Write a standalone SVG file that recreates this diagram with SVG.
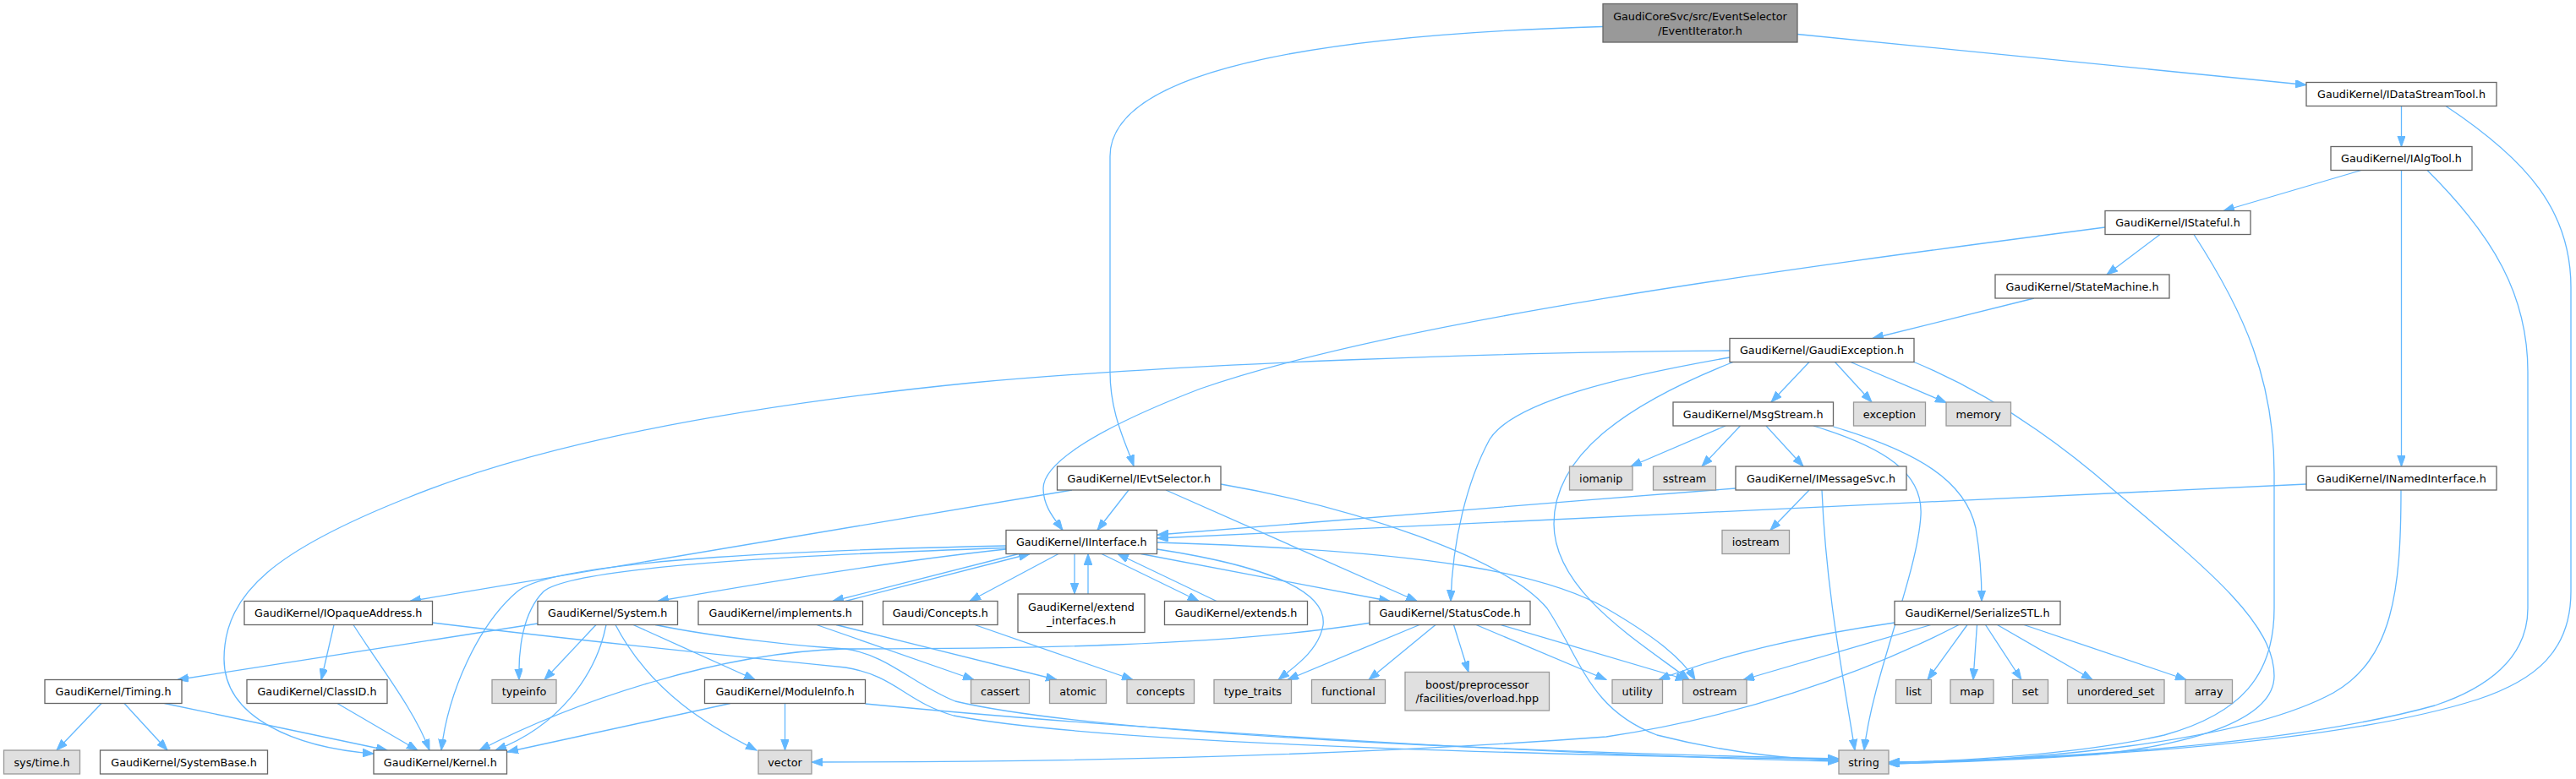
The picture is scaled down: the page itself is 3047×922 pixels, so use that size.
<svg xmlns="http://www.w3.org/2000/svg" width="3047" height="922" viewBox="0 0 3047 922">
<style>
.n{fill:#ffffff;stroke:#666666;stroke-width:1.3}
.x{fill:#e0e0e0;stroke:#999999;stroke-width:1.3}
.r{fill:#999999;stroke:#666666;stroke-width:1.3}
text{font-family:"DejaVu Sans","Liberation Sans",sans-serif;font-size:12.75px;fill:#000000;text-anchor:middle}
.e{fill:none;stroke:#63b8ff;stroke-width:1.3;marker-end:url(#a)}
</style>
<defs>
<marker id="a" markerUnits="userSpaceOnUse" markerWidth="14" markerHeight="10" refX="13" refY="4.75" orient="auto">
<path d="M0,0 L13,4.75 L0,9.5 z" fill="#63b8ff" stroke="#63b8ff" stroke-width="1"/>
</marker>
</defs>
<rect width="3047" height="922" fill="#ffffff"/>
<g id="edges">
<path class="e" d="M1896,31.5 C1600,40 1313,75 1313,185 L1313,440 C1313,490 1332,525 1341,551.5"/>
<path class="e" d="M2126,40.5 L2728,100.5"/>
<path class="e" d="M2840.5,125.5 L2840.5,173.5"/>
<path class="e" d="M2893,125.5 C2990,190 3041,250 3041,340 L3041,700 C3041,770 3000,805 2930,828 C2750,885 2400,900 2234,902"/>
<path class="e" d="M2793,201.5 L2630,249.5"/>
<path class="e" d="M2840.5,201.5 L2840.5,552"/>
<path class="e" d="M2871,201.5 C2950,280 2990,350 2990,440 L2990,720 C2990,780 2940,815 2880,835 C2700,885 2400,899 2234,902.5"/>
<path class="e" d="M2490,269 C2100,320 1650,380 1420,460 C1290,510 1234,550 1234,578 C1234,600 1248,615 1257,627.5"/>
<path class="e" d="M2555,277.5 L2492,325"/>
<path class="e" d="M2595,277.5 C2655,370 2690,450 2690,560 L2690,720 C2690,800 2650,845 2560,870 C2450,895 2300,901 2234,903"/>
<path class="e" d="M2406,353 L2215,400.5"/>
<path class="e" d="M2046,415 C1800,416 1400,430 1150,453 C900,478 650,520 480,590 C330,650 265,700 265,780 C265,850 350,885 442,892"/>
<path class="e" d="M2046,423 C1920,445 1790,475 1762,520 C1735,570 1718,640 1716,711.5"/>
<path class="e" d="M2050,428.5 C1920,480 1838,540 1838,620 C1838,700 1940,760 1998,804.5"/>
<path class="e" d="M2140,428.5 L2095,476"/>
<path class="e" d="M2170.5,428.5 L2214,476"/>
<path class="e" d="M2189,428.5 L2302,476.5"/>
<path class="e" d="M2264,428.5 C2340,460 2420,510 2500,580 C2620,680 2690,740 2690,800 C2690,850 2600,880 2480,893 C2380,900 2280,903 2234,904"/>
<path class="e" d="M2041,504 L1929,552"/>
<path class="e" d="M2058.5,504 L2013,552"/>
<path class="e" d="M2089,504 L2133,552"/>
<path class="e" d="M2145,504 C2230,530 2275,560 2272,610 C2268,680 2215,800 2205,888"/>
<path class="e" d="M2168.5,505 C2270,535 2325,570 2337,625 C2343,660 2344,690 2344,711.5"/>
<path class="e" d="M2053,578 C1800,598 1500,622 1369,633"/>
<path class="e" d="M2728,573 C2200,600 1700,625 1369,637"/>
<path class="e" d="M2140,580 L2094,627.5"/>
<path class="e" d="M2155,580 C2160,700 2180,800 2194,888"/>
<path class="e" d="M2840,580 C2840,700 2830,780 2760,820 C2650,880 2400,900 2234,904"/>
<path class="e" d="M1335,580 L1298,627.5"/>
<path class="e" d="M1268,580 L485,711.5"/>
<path class="e" d="M1379,580 L1676,711.5"/>
<path class="e" d="M1444,573 C1600,600 1780,660 1830,720 C1870,780 1880,840 1960,870 C2050,893 2130,899 2175,900"/>
<path class="e" d="M1252,655.5 L1147,711.5"/>
<path class="e" d="M1271,655.5 L1271,703"/>
<path class="e" d="M1287,703 L1287,655.5"/>
<path class="e" d="M1303,655.5 L1418,711.5"/>
<path class="e" d="M1439,711.5 L1322,655.5"/>
<path class="e" d="M1349.5,655.5 L1644,711.5"/>
<path class="e" d="M1368.5,650 C1500,670 1570,700 1565,740 C1560,770 1530,790 1512,804.5"/>
<path class="e" d="M1368.5,642 C1700,652 1830,680 1900,720 C1960,755 1990,780 2005,804.5"/>
<path class="e" d="M1190,650 C1050,665 900,690 778,711.5"/>
<path class="e" d="M1205,655.5 L985,711.5"/>
<path class="e" d="M1000,711.5 L1218,655.5"/>
<path class="e" d="M1190,646 C1000,650 660,660 612,700 C565,740 530,820 522,888"/>
<path class="e" d="M1190,648.5 C1000,655 680,668 643,700 C618,725 613,770 614,804.5"/>
<path class="e" d="M395,739.5 L380,804.5"/>
<path class="e" d="M418,739.5 C450,790 490,840 508,888"/>
<path class="e" d="M511.5,737 C700,760 900,780 1000,790 C1060,800 1070,830 1128,847 C1300,880 1800,893 2175,899"/>
<path class="e" d="M636,738 L210,804.5"/>
<path class="e" d="M705,739.5 L644,804.5"/>
<path class="e" d="M717,739.5 C705,800 660,860 586,888"/>
<path class="e" d="M749,739.5 L893,804.5"/>
<path class="e" d="M728,739.5 C770,820 840,860 895,888"/>
<path class="e" d="M775,739.5 C850,755 950,765 1000,768 C1050,775 1080,810 1130,830 C1300,870 1800,890 2175,898"/>
<path class="e" d="M120,832.5 L67,888"/>
<path class="e" d="M147,832.5 L198,888"/>
<path class="e" d="M194.5,832.5 L458,888"/>
<path class="e" d="M399,832.5 L494,888"/>
<path class="e" d="M864,832.5 L600,890"/>
<path class="e" d="M928.5,832.5 L928.5,888"/>
<path class="e" d="M1023.5,833 C1300,860 1800,893 2175,901"/>
<path class="e" d="M1622,737 C1450,765 1200,768 1000,768 C850,772 680,830 567,888"/>
<path class="e" d="M966,739.5 L1152,804.5"/>
<path class="e" d="M989,739.5 L1250,804.5"/>
<path class="e" d="M1153,739.5 L1340,804.5"/>
<path class="e" d="M1679,739.5 L1523,804.5"/>
<path class="e" d="M1698,739.5 L1619,804.5"/>
<path class="e" d="M1719.5,739.5 L1737,795.5"/>
<path class="e" d="M1746,739.5 L1900,804.5"/>
<path class="e" d="M1775,739.5 L1995,804.5"/>
<path class="e" d="M2241,737 C2150,750 2050,770 1962,804.5"/>
<path class="e" d="M2284,739.5 L2062,804.5"/>
<path class="e" d="M2317,739.5 C2200,800 2050,850 1900,872 C1500,902 1100,902 960,902"/>
<path class="e" d="M2327,739.5 L2280,804.5"/>
<path class="e" d="M2338.5,739.5 L2334,804.5"/>
<path class="e" d="M2348.5,739.5 L2391,804.5"/>
<path class="e" d="M2362.5,739.5 L2475,804.5"/>
<path class="e" d="M2394,739.5 L2586,804.5"/>
</g>
<g id="n_EventIterator"><rect class="r" x="1896" y="4.5" width="230" height="45.5"/><text x="2011" y="24">GaudiCoreSvc/src/EventSelector</text><text x="2011" y="40.5">/EventIterator.h</text></g>
<g id="n_IDataStreamTool"><rect class="n" x="2728" y="97.5" width="225" height="28"/><text x="2840.5" y="116">GaudiKernel/IDataStreamTool.h</text></g>
<g id="n_IAlgTool"><rect class="n" x="2757" y="173.5" width="167" height="28"/><text x="2840.5" y="192">GaudiKernel/IAlgTool.h</text></g>
<g id="n_IStateful"><rect class="n" x="2490" y="249.5" width="172" height="28"/><text x="2576" y="268">GaudiKernel/IStateful.h</text></g>
<g id="n_StateMachine"><rect class="n" x="2360" y="325" width="206" height="28"/><text x="2463" y="343.5">GaudiKernel/StateMachine.h</text></g>
<g id="n_GaudiException"><rect class="n" x="2046" y="400.5" width="218" height="28"/><text x="2155" y="419">GaudiKernel/GaudiException.h</text></g>
<g id="n_MsgStream"><rect class="n" x="1979" y="476" width="189.5" height="28"/><text x="2073.75" y="494.5">GaudiKernel/MsgStream.h</text></g>
<g id="n_exception"><rect class="x" x="2192.5" y="476" width="85" height="28"/><text x="2235" y="494.5">exception</text></g>
<g id="n_memory"><rect class="x" x="2302" y="476" width="76.5" height="28"/><text x="2340.25" y="494.5">memory</text></g>
<g id="n_iomanip"><rect class="x" x="1856.5" y="552" width="74.5" height="28"/><text x="1893.75" y="570.5">iomanip</text></g>
<g id="n_sstream"><rect class="x" x="1955.5" y="552" width="74" height="28"/><text x="1992.5" y="570.5">sstream</text></g>
<g id="n_IMessageSvc"><rect class="n" x="2053" y="552" width="202" height="28"/><text x="2154" y="570.5">GaudiKernel/IMessageSvc.h</text></g>
<g id="n_IEvtSelector"><rect class="n" x="1250.5" y="552" width="193.5" height="28"/><text x="1347.25" y="570.5">GaudiKernel/IEvtSelector.h</text></g>
<g id="n_INamedInterface"><rect class="n" x="2728" y="552" width="225" height="28"/><text x="2840.5" y="570.5">GaudiKernel/INamedInterface.h</text></g>
<g id="n_IInterface"><rect class="n" x="1190" y="627.5" width="178.5" height="28"/><text x="1279.25" y="646">GaudiKernel/IInterface.h</text></g>
<g id="n_iostream"><rect class="x" x="2037" y="627.5" width="79.5" height="28"/><text x="2076.75" y="646">iostream</text></g>
<g id="n_IOpaqueAddress"><rect class="n" x="289" y="711.5" width="222.5" height="28"/><text x="400.25" y="730">GaudiKernel/IOpaqueAddress.h</text></g>
<g id="n_System"><rect class="n" x="636" y="711.5" width="165.5" height="28"/><text x="718.75" y="730">GaudiKernel/System.h</text></g>
<g id="n_implements"><rect class="n" x="826" y="711.5" width="194.5" height="28"/><text x="923.25" y="730">GaudiKernel/implements.h</text></g>
<g id="n_Concepts"><rect class="n" x="1044.5" y="711.5" width="135.5" height="28"/><text x="1112.25" y="730">Gaudi/Concepts.h</text></g>
<g id="n_extend_interfaces"><rect class="n" x="1204" y="703" width="150" height="45.5"/><text x="1279" y="722.5">GaudiKernel/extend</text><text x="1279" y="739">_interfaces.h</text></g>
<g id="n_extends"><rect class="n" x="1377.5" y="711.5" width="169" height="28"/><text x="1462" y="730">GaudiKernel/extends.h</text></g>
<g id="n_StatusCode"><rect class="n" x="1620" y="711.5" width="190" height="28"/><text x="1715" y="730">GaudiKernel/StatusCode.h</text></g>
<g id="n_SerializeSTL"><rect class="n" x="2241" y="711.5" width="196" height="28"/><text x="2339" y="730">GaudiKernel/SerializeSTL.h</text></g>
<g id="n_Timing"><rect class="n" x="53" y="804.5" width="162" height="28"/><text x="134" y="823">GaudiKernel/Timing.h</text></g>
<g id="n_ClassID"><rect class="n" x="292" y="804.5" width="166" height="28"/><text x="375" y="823">GaudiKernel/ClassID.h</text></g>
<g id="n_typeinfo"><rect class="x" x="582" y="804.5" width="76" height="28"/><text x="620" y="823">typeinfo</text></g>
<g id="n_ModuleInfo"><rect class="n" x="833.5" y="804.5" width="190" height="28"/><text x="928.5" y="823">GaudiKernel/ModuleInfo.h</text></g>
<g id="n_cassert"><rect class="x" x="1148.5" y="804.5" width="69" height="28"/><text x="1183" y="823">cassert</text></g>
<g id="n_atomic"><rect class="x" x="1241.5" y="804.5" width="67" height="28"/><text x="1275" y="823">atomic</text></g>
<g id="n_concepts"><rect class="x" x="1333" y="804.5" width="79.5" height="28"/><text x="1372.75" y="823">concepts</text></g>
<g id="n_type_traits"><rect class="x" x="1436" y="804.5" width="91.5" height="28"/><text x="1481.75" y="823">type_traits</text></g>
<g id="n_functional"><rect class="x" x="1551.5" y="804.5" width="87" height="28"/><text x="1595" y="823">functional</text></g>
<g id="n_boost"><rect class="x" x="1662" y="795.5" width="170.5" height="45.5"/><text x="1747.25" y="814.5">boost/preprocessor</text><text x="1747.25" y="831">/facilities/overload.hpp</text></g>
<g id="n_utility"><rect class="x" x="1907" y="804.5" width="59.5" height="28"/><text x="1936.75" y="823">utility</text></g>
<g id="n_ostream"><rect class="x" x="1990.5" y="804.5" width="75.5" height="28"/><text x="2028.25" y="823">ostream</text></g>
<g id="n_list"><rect class="x" x="2242.5" y="804.5" width="42" height="28"/><text x="2263.5" y="823">list</text></g>
<g id="n_map"><rect class="x" x="2307" y="804.5" width="51" height="28"/><text x="2332.5" y="823">map</text></g>
<g id="n_set"><rect class="x" x="2380.5" y="804.5" width="42" height="28"/><text x="2401.5" y="823">set</text></g>
<g id="n_unordered_set"><rect class="x" x="2445.5" y="804.5" width="114.5" height="28"/><text x="2502.75" y="823">unordered_set</text></g>
<g id="n_array"><rect class="x" x="2585" y="804.5" width="55.5" height="28"/><text x="2612.75" y="823">array</text></g>
<g id="n_systime"><rect class="x" x="4.5" y="888" width="90" height="28"/><text x="49.5" y="906.5">sys/time.h</text></g>
<g id="n_SystemBase"><rect class="n" x="118.5" y="888" width="198" height="28"/><text x="217.5" y="906.5">GaudiKernel/SystemBase.h</text></g>
<g id="n_Kernel"><rect class="n" x="442" y="888" width="157.5" height="28"/><text x="520.75" y="906.5">GaudiKernel/Kernel.h</text></g>
<g id="n_vector"><rect class="x" x="897" y="888" width="63" height="28"/><text x="928.5" y="906.5">vector</text></g>
<g id="n_string"><rect class="x" x="2175" y="888" width="59" height="28"/><text x="2204.5" y="906.5">string</text></g>
</svg>
